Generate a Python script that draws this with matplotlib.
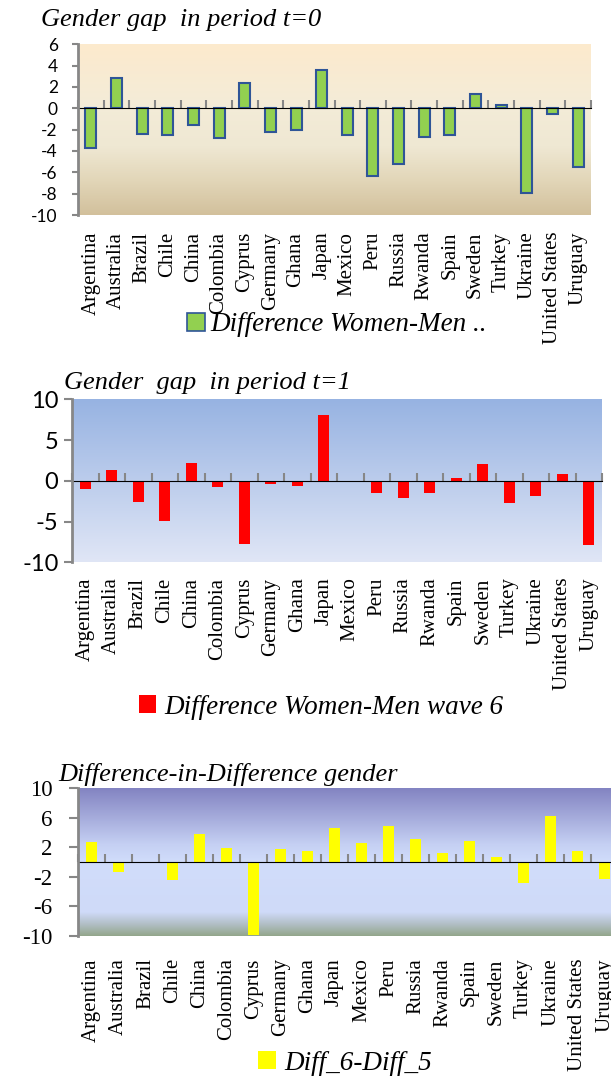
import numpy as np
import matplotlib
matplotlib.use("Agg")
import matplotlib.pyplot as plt
from matplotlib.colors import LinearSegmentedColormap
from matplotlib.patches import Patch

countries = ["Argentina", "Australia", "Brazil", "Chile", "China", "Colombia",
             "Cyprus", "Germany", "Ghana", "Japan", "Mexico", "Peru", "Russia",
             "Rwanda", "Spain", "Sweden", "Turkey", "Ukraine", "United States",
             "Uruguay"]

gap_t0 = [-3.7, 2.8, -2.4, -2.5, -1.6, -2.75, 2.35, -2.2, -2.05, 3.55,
          -2.5, -6.3, -5.2, -2.65, -2.5, 1.35, 0.3, -7.95, -0.5, -5.5]
gap_t1 = [-1.0, 1.35, -2.55, -4.9, 2.15, -0.8, -7.7, -0.45, -0.6, 8.05,
          0.0, -1.55, -2.1, -1.45, 0.3, 2.0, -2.7, -1.85, 0.85, -7.85]
did = [2.75, -1.4, -0.1, -2.4, 3.75, 1.95, -9.9, 1.8, 1.5, 4.65,
       2.6, 4.8, 3.15, 1.25, 2.85, 0.7, -2.9, 6.15, 1.45, -2.3]

title1 = "Gender gap  in period t=0"
title2 = "Gender  gap  in period t=1"
title3 = "Difference-in-Difference gender"
legend1 = "Difference Women-Men .."
legend2 = "Difference Women-Men wave 6"
legend3 = "Diff_6-Diff_5"

yticks1 = [6, 4, 2, 0, -2, -4, -6, -8, -10]
yticks2 = [10, 5, 0, -5, -10]
yticks3 = [10, 6, 2, -2, -6, -10]

W, H = 611, 1081
fig = plt.figure(figsize=(W / 100, H / 100), dpi=100)

SERIF = ["Liberation Serif", "DejaVu Serif"]
SANS = ["Lato", "DejaVu Sans"]
GRAY = "#878787"
TITLE_FS = 19
LEG_FS = 19.5


def px_axes(left, right, top, bottom):
    return fig.add_axes([left / W, 1 - bottom / H, (right - left) / W, (bottom - top) / H])


def make_panel(rect, values, ylim, yticks, color, edge, lw, cmap_stops,
               tickfont, tickfs, tickpad, ticklen, xpad, width=0.43):
    ax = px_axes(*rect)
    n = len(values)
    x = np.arange(n)
    cmap = LinearSegmentedColormap.from_list("bg", cmap_stops)
    grad = np.linspace(0, 1, 256).reshape(-1, 1)
    ax.imshow(grad, cmap=cmap, origin="lower", aspect="auto",
              extent=(-0.5, n - 0.5, ylim[0], ylim[1]), zorder=0)
    ax.bar(x, values, width=width, color=color, edgecolor=edge, linewidth=lw, zorder=3)
    ax.set_xlim(-0.5, n - 0.5)
    ax.set_ylim(*ylim)
    ax.set_yticks(yticks)
    ax.set_yticklabels([str(t) for t in yticks], family=tickfont, fontsize=tickfs)
    ax.tick_params(axis="y", direction="out", length=ticklen, width=1.5,
                   color=GRAY, pad=tickpad)
    ax.set_xticks(x)
    ax.set_xticklabels(countries, rotation=90, family=SERIF, fontsize=15, va="top")
    ax.tick_params(axis="x", length=0, pad=xpad)
    for s in ["top", "right", "bottom"]:
        ax.spines[s].set_visible(False)
    ax.spines["left"].set_color(GRAY)
    ax.spines["left"].set_linewidth(2)
    ax.spines["left"].set_zorder(5)
    # zero line with category-boundary ticks
    loc = (0 - ylim[0]) / (ylim[1] - ylim[0])
    sec = ax.secondary_xaxis(loc)
    sec.set_xticks(np.arange(-0.5, n, 1.0))
    sec.set_xticklabels([])
    sec.tick_params(direction="out", length=6, width=1.5, color=GRAY)
    sec.spines["bottom"].set_color(GRAY)
    sec.spines["bottom"].set_linewidth(2)
    sec.set_zorder(4)
    return ax


# Panel 1
ax1 = make_panel((78, 591, 44.3, 215), gap_t0, (-10, 6), yticks1,
                 "#92d050", "#2f5597", 1.5,
                 [(0.0, "#d2c09c"), (0.2, "#e2d6b8"), (0.4, "#efe8d3"),
                  (0.65, "#f4ecd8"), (1.0, "#fdeacd")],
                 SANS, 12.5, 10, 4.5, 12)
fig.text(41 / W, 1 - 20 / H, title1, family=SERIF, style="italic",
         fontsize=TITLE_FS, va="center", ha="left")
fig.legend(handles=[Patch(facecolor="#92d050", edgecolor="#2f5597", linewidth=1.2)],
           labels=[legend1], loc="center", bbox_to_anchor=(337 / W, 1 - 325 / H),
           frameon=False, prop={"family": SERIF, "style": "italic", "size": LEG_FS},
           handlelength=0.65, handleheight=0.65, handletextpad=0.2, borderpad=0)

# Panel 2
ax2 = make_panel((72, 602, 399.3, 562.3), gap_t1, (-10, 10), yticks2,
                 "#ff0000", "none", 0,
                 [(0.0, "#e0e6f6"), (1.0, "#97b3e2")],
                 SANS, 17, 4, 5.8, 11, width=0.42)
fig.text(64 / W, 1 - 383 / H, title2, family=SERIF, style="italic",
         fontsize=TITLE_FS, va="center", ha="left")
fig.legend(handles=[Patch(facecolor="#ff0000", edgecolor="none")],
           labels=[legend2], loc="center", bbox_to_anchor=(321 / W, 1 - 707 / H),
           frameon=False, prop={"family": SERIF, "style": "italic", "size": LEG_FS},
           handlelength=0.65, handleheight=0.65, handletextpad=0.3, borderpad=0)

# Panel 3
ax3 = make_panel((78, 618, 788, 936), did, (-10, 10), yticks3,
                 "#ffff00", "none", 0,
                 [(0.0, "#93a68b"), (0.08, "#b2bfc6"), (0.16, "#cfdaf8"),
                  (0.5, "#d1ddfb"), (0.62, "#c5d0f3"), (1.0, "#8384c2")],
                 SERIF, 16.5, 12, 6.5, 16, width=0.40)
fig.text(58 / W, 1 - 775 / H, title3, family=SERIF, style="italic",
         fontsize=TITLE_FS, va="center", ha="left")
fig.legend(handles=[Patch(facecolor="#ffff00", edgecolor="none")],
           labels=[legend3], loc="center", bbox_to_anchor=(345 / W, 1 - 1063 / H),
           frameon=False, prop={"family": SERIF, "style": "italic", "size": LEG_FS},
           handlelength=0.65, handleheight=0.65, handletextpad=0.3, borderpad=0)

fig.savefig("out.png", dpi=100)
